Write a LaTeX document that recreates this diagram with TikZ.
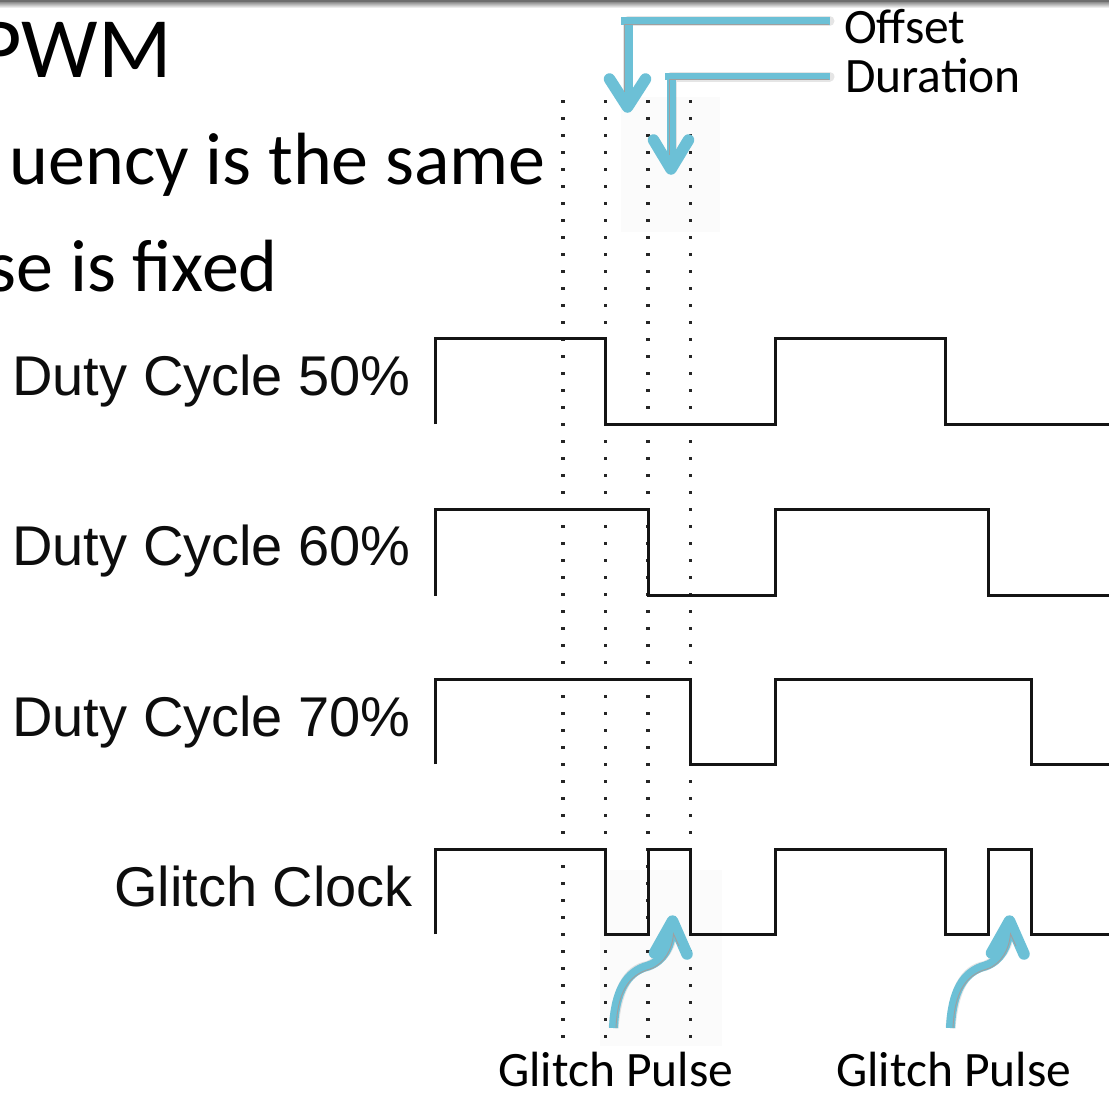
\documentclass[tikz,border=0pt]{standalone}
\usepackage{fontspec}
\setmainfont{Carlito}
\newfontfamily\signalfont{Liberation Sans}
\definecolor{pulseblue}{HTML}{6CC0D6}
\definecolor{framegray}{HTML}{6E6E6E}
\begin{document}
\begin{tikzpicture}[x=1pt,y=-1pt,
  wave/.style={line width=3pt, black!92, line join=miter},
  gridline/.style={line width=3.3pt, black!85, dash pattern=on 3.3pt off 13.7pt},
  siglabel/.style={font=\signalfont\fontsize{56}{60}\selectfont, text=black!95, anchor=base east, inner sep=0pt},
  slidetext/.style={font=\fontsize{74}{80}\selectfont, anchor=base east, inner sep=0pt},
  calloutlbl/.style={font=\fontsize{49.5}{52}\selectfont, anchor=base west, inner sep=0pt},
  callout/.style={pulseblue, line width=7.5pt},
  calloutshaft/.style={pulseblue, line width=9pt},
  callouthead/.style={pulseblue, line width=11.5pt, line cap=round, line join=round},
  calloutcore/.style={gray!75, line width=0.9pt},
  calloutshade/.style={black, opacity=0.10, line width=10pt, line cap=round, line join=round},
  haze/.style={fill=black!1.5, draw=none}
]
% page and clipping
\fill[white] (0,0) rectangle (1109,1093);
\useasboundingbox (0,0) rectangle (1109,1093);
\clip (0,0) rectangle (1109,1093);

% slide frame at the top edge
\fill[framegray] (0,0) rectangle (1109,2.6);
\shade[top color=black!40, bottom color=white] (0,2.6) rectangle (1109,8);

% faint backing patches behind the callouts
\fill[haze] (621,97) rectangle (720,232);
\fill[haze] (600,870) rectangle (722,1046);

% slide text
\node[font=\fontsize{86}{90}\selectfont, anchor=base east, inner sep=0pt] (title) at (172,77) {PWM};
\node[slidetext] (freqline) at (546,184) {uency is the same};
\node[slidetext] (pulseline) at (278,291) {se is fixed};

% timing grid
\foreach \gx/\gn in {563/a,605.7/b,648/c,690.3/d}{
  \coordinate (grid\gn-top) at (\gx,100);
  \coordinate (grid\gn-bot) at (\gx,1040);
  \draw[gridline] (grid\gn-top) -- (grid\gn-bot);
}

% waveforms
\draw[wave] (435,424) -- (435,338.3) -- (605.7,338.3) -- (605.7,424) -- (775.7,424)
  -- (775.7,338.3) -- (945.7,338.3) -- (945.7,424) -- (1112,424);
\draw[wave] (435,595.7) -- (435,509) -- (648,509) -- (648,595.7) -- (775.7,595.7)
  -- (775.7,509) -- (988.3,509) -- (988.3,595.7) -- (1112,595.7);
\draw[wave] (435,764) -- (435,679.3) -- (690.3,679.3) -- (690.3,764) -- (775.7,764)
  -- (775.7,679.3) -- (1031,679.3) -- (1031,764) -- (1112,764);
\draw[wave] (435,934) -- (435,849) -- (605.7,849) -- (605.7,934) -- (648,934)
  -- (648,849) -- (690.3,849) -- (690.3,934) -- (775.7,934) -- (775.7,849)
  -- (945.7,849) -- (945.7,934) -- (988.3,934) -- (988.3,849) -- (1031,849)
  -- (1031,934) -- (1112,934);

% signal names
\node[siglabel] (lab50) at (411,395) {Duty Cycle 50\%};
\node[siglabel] (lab60) at (411,565.7) {Duty Cycle 60\%};
\node[siglabel] (lab70) at (411,736) {Duty Cycle 70\%};
\node[siglabel] (labgc) at (413,906) {Glitch Clock};

% callout labels
\node[calloutlbl] (offsetlbl) at (844,43) {Offset};
\node[calloutlbl] (durationlbl) at (845,92) {Duration};
\node[calloutlbl] (gpulsea) at (498,1086) {Glitch Pulse};
\node[calloutlbl] (gpulseb) at (836,1086) {Glitch Pulse};

% offset and duration callouts
\coordinate (offs-start) at (829.5,21);
\coordinate (offs-end) at (621,21);
\coordinate (offs-corner) at (628,21);
\coordinate (offs-shaft) at (628,100);
\coordinate (offs-tip) at (627.5,107);
\coordinate (offs-l) at (609.5,79);
\coordinate (offs-r) at (645.5,79);
\coordinate (dur-start) at (829.5,76.5);
\coordinate (dur-end) at (665,76.5);
\coordinate (dur-corner) at (671.5,76.5);
\coordinate (dur-shaft) at (671.5,162);
\coordinate (dur-tip) at (671,169);
\coordinate (dur-l) at (653.5,140);
\coordinate (dur-r) at (688.5,140);

\foreach \cn in {offs,dur}{
  \begin{scope}[shift={(2pt,3pt)}]
    \draw[calloutshade] (\cn-start) -- (\cn-corner) -- (\cn-shaft);
    \draw[calloutshade] (\cn-l) -- (\cn-tip) -- (\cn-r);
  \end{scope}
  \draw[callout] (\cn-start) -- (\cn-end);
  \draw[calloutshaft] (\cn-corner) -- (\cn-shaft);
  \draw[callouthead] (\cn-l) -- (\cn-tip) -- (\cn-r);
}
\draw[calloutcore] (829,24.2) -- (624.5,24.2) -- (624.5,92);
\draw[calloutcore] (829,79.5) -- (669,79.5) -- (669,155);

% glitch pulse callouts
\foreach \dx/\gn in {0/a,337/b}{
  \begin{scope}[xshift=\dx]
    \coordinate (gp\gn-tail) at (613.5,1028);
    \coordinate (gp\gn-mid) at (648,966);
    \coordinate (gp\gn-end) at (672,930);
    \coordinate (gp\gn-tip) at (672.5,921);
    \coordinate (gp\gn-l) at (654.5,953);
    \coordinate (gp\gn-r) at (687,954);
    \begin{scope}[shift={(2pt,3pt)}]
      \draw[calloutshade, line cap=butt] (gp\gn-tail) .. controls (615,992) and (626,972) .. (gp\gn-mid)
        .. controls (664,961) and (671,945) .. (gp\gn-end);
      \draw[calloutshade] (gp\gn-l) -- (gp\gn-tip) -- (gp\gn-r);
    \end{scope}
    \draw[pulseblue, line width=9pt] (gp\gn-tail) .. controls (615,992) and (626,972) .. (gp\gn-mid)
      .. controls (664,961) and (671,945) .. (gp\gn-end);
    \draw[callouthead] (gp\gn-l) -- (gp\gn-tip) -- (gp\gn-r);
    \draw[calloutcore] (616,1028) .. controls (617.5,993) and (628,975) .. (650,969)
      .. controls (665,964) and (672.5,948) .. (673.5,934) -- (679,946);
  \end{scope}
}
\end{tikzpicture}
\end{document}
